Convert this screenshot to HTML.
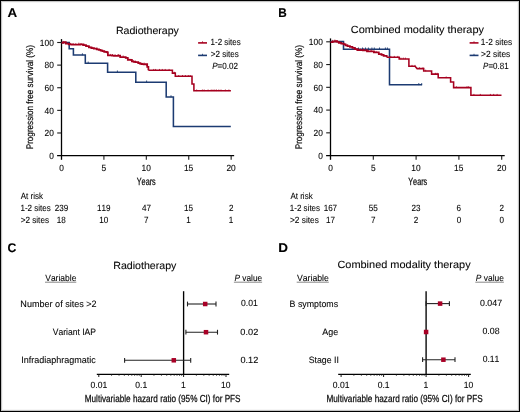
<!DOCTYPE html>
<html><head><meta charset="utf-8"><style>
html,body{margin:0;padding:0;background:#fff;}
svg{display:block;will-change:transform;font-family:"Liberation Sans", sans-serif;text-rendering:geometricPrecision;font-kerning:none;}
</style></head><body>
<svg width="520" height="412" viewBox="0 0 520 412">
<rect x="0.5" y="0.5" width="519" height="411" fill="#fff" stroke="#000" stroke-width="1"/>
<rect x="1.5" y="1.5" width="517" height="409" fill="none" stroke="#c4c4c4" stroke-width="1"/>
<rect x="2.5" y="2.5" width="515" height="407" fill="none" stroke="#f6f6f6" stroke-width="1"/>
<text x="7.47" y="16.90" font-size="12.6" textLength="9.69" lengthAdjust="spacingAndGlyphs" font-weight="bold" fill="#000" stroke="#000" stroke-width="0.1">A</text>
<text x="278.21" y="16.90" font-size="12.6" textLength="8.53" lengthAdjust="spacingAndGlyphs" font-weight="bold" fill="#000" stroke="#000" stroke-width="0.1">B</text>
<text x="7.50" y="251.80" font-size="12.6" textLength="8.84" lengthAdjust="spacingAndGlyphs" font-weight="bold" fill="#000" stroke="#000" stroke-width="0.1">C</text>
<text x="278.29" y="251.90" font-size="12.6" textLength="9.77" lengthAdjust="spacingAndGlyphs" font-weight="bold" fill="#000" stroke="#000" stroke-width="0.1">D</text>
<line x1="61.50" y1="39.10" x2="61.50" y2="159.80" stroke="#000" stroke-width="1.3"/>
<line x1="57.10" y1="155.60" x2="234.15" y2="155.60" stroke="#000" stroke-width="1.3"/>
<line x1="57.20" y1="42.50" x2="61.50" y2="42.50" stroke="#1b1b1b" stroke-width="1.1"/>
<line x1="57.20" y1="65.12" x2="61.50" y2="65.12" stroke="#1b1b1b" stroke-width="1.1"/>
<line x1="57.20" y1="87.74" x2="61.50" y2="87.74" stroke="#1b1b1b" stroke-width="1.1"/>
<line x1="57.20" y1="110.36" x2="61.50" y2="110.36" stroke="#1b1b1b" stroke-width="1.1"/>
<line x1="57.20" y1="132.98" x2="61.50" y2="132.98" stroke="#1b1b1b" stroke-width="1.1"/>
<text x="39.86" y="45.70" font-size="9" textLength="13.96" lengthAdjust="spacingAndGlyphs" stroke="#1b1b1b" stroke-width="0.1">100</text>
<text x="44.52" y="68.32" font-size="9" textLength="9.31" lengthAdjust="spacingAndGlyphs" stroke="#1b1b1b" stroke-width="0.1">80</text>
<text x="44.52" y="90.94" font-size="9" textLength="9.31" lengthAdjust="spacingAndGlyphs" stroke="#1b1b1b" stroke-width="0.1">60</text>
<text x="44.52" y="113.56" font-size="9" textLength="9.31" lengthAdjust="spacingAndGlyphs" stroke="#1b1b1b" stroke-width="0.1">40</text>
<text x="44.52" y="136.18" font-size="9" textLength="9.31" lengthAdjust="spacingAndGlyphs" stroke="#1b1b1b" stroke-width="0.1">20</text>
<text x="49.17" y="158.80" font-size="9" textLength="4.65" lengthAdjust="spacingAndGlyphs" stroke="#1b1b1b" stroke-width="0.1">0</text>
<line x1="103.91" y1="155.60" x2="103.91" y2="159.80" stroke="#1b1b1b" stroke-width="1.1"/>
<line x1="146.32" y1="155.60" x2="146.32" y2="159.80" stroke="#1b1b1b" stroke-width="1.1"/>
<line x1="188.74" y1="155.60" x2="188.74" y2="159.80" stroke="#1b1b1b" stroke-width="1.1"/>
<line x1="231.15" y1="155.60" x2="231.15" y2="159.80" stroke="#1b1b1b" stroke-width="1.1"/>
<text x="59.17" y="171.00" font-size="9" textLength="4.65" lengthAdjust="spacingAndGlyphs" stroke="#1b1b1b" stroke-width="0.1">0</text>
<text x="101.59" y="171.00" font-size="9" textLength="4.65" lengthAdjust="spacingAndGlyphs" stroke="#1b1b1b" stroke-width="0.1">5</text>
<text x="141.51" y="171.00" font-size="9" textLength="9.31" lengthAdjust="spacingAndGlyphs" stroke="#1b1b1b" stroke-width="0.1">10</text>
<text x="183.94" y="171.00" font-size="9" textLength="9.31" lengthAdjust="spacingAndGlyphs" stroke="#1b1b1b" stroke-width="0.1">15</text>
<text x="226.45" y="171.00" font-size="9" textLength="9.31" lengthAdjust="spacingAndGlyphs" stroke="#1b1b1b" stroke-width="0.1">20</text>
<text x="136.74" y="185.40" font-size="10.4" textLength="19.02" lengthAdjust="spacingAndGlyphs" stroke="#1b1b1b" stroke-width="0.25">Years</text>
<text x="-0.67" y="0" transform="translate(33.00,148.60) rotate(-90)" font-size="9.6" textLength="104.17" lengthAdjust="spacingAndGlyphs" stroke="#1b1b1b" stroke-width="0.22">Progression free survival (%)</text>
<text x="115.93" y="33.50" font-size="10.4" textLength="62.99" lengthAdjust="spacingAndGlyphs" stroke="#1b1b1b" stroke-width="0.1">Radiotherapy</text>
<line x1="198.10" y1="42.90" x2="207.00" y2="42.90" stroke="#a6001f" stroke-width="1.6"/>
<line x1="202.50" y1="41.30" x2="202.50" y2="42.90" stroke="#a6001f" stroke-width="0.8"/>
<text x="210.59" y="44.90" font-size="9" textLength="30.09" lengthAdjust="spacingAndGlyphs" stroke="#1b1b1b" stroke-width="0.1">1-2 sites</text>
<line x1="198.10" y1="55.40" x2="207.00" y2="55.40" stroke="#1c3b72" stroke-width="1.6"/>
<line x1="202.50" y1="53.80" x2="202.50" y2="55.40" stroke="#1c3b72" stroke-width="0.8"/>
<text x="210.80" y="57.00" font-size="9" textLength="27.99" lengthAdjust="spacingAndGlyphs" stroke="#1b1b1b" stroke-width="0.1">&gt;2 sites</text>
<text x="212.15" y="69.20" font-size="9" textLength="25.75" lengthAdjust="spacingAndGlyphs" stroke="#1b1b1b" stroke-width="0.1"><tspan font-style="italic">P</tspan>=0.02</text>
<text x="20.78" y="198.90" font-size="9" textLength="22.20" lengthAdjust="spacingAndGlyphs" stroke="#1b1b1b" stroke-width="0.1">At risk</text>
<text x="20.49" y="210.50" font-size="9" textLength="30.30" lengthAdjust="spacingAndGlyphs" stroke="#1b1b1b" stroke-width="0.1">1-2 sites</text>
<text x="20.70" y="222.60" font-size="9" textLength="28.30" lengthAdjust="spacingAndGlyphs" stroke="#1b1b1b" stroke-width="0.1">&gt;2 sites</text>
<text x="54.73" y="210.60" font-size="9" textLength="13.51" lengthAdjust="spacingAndGlyphs" stroke="#1b1b1b" stroke-width="0.1">239</text>
<text x="56.86" y="222.70" font-size="9" textLength="9.01" lengthAdjust="spacingAndGlyphs" stroke="#1b1b1b" stroke-width="0.1">18</text>
<text x="97.04" y="210.60" font-size="9" textLength="13.51" lengthAdjust="spacingAndGlyphs" stroke="#1b1b1b" stroke-width="0.1">119</text>
<text x="99.26" y="222.70" font-size="9" textLength="9.01" lengthAdjust="spacingAndGlyphs" stroke="#1b1b1b" stroke-width="0.1">10</text>
<text x="141.93" y="210.60" font-size="9" textLength="9.01" lengthAdjust="spacingAndGlyphs" stroke="#1b1b1b" stroke-width="0.1">47</text>
<text x="144.07" y="222.70" font-size="9" textLength="4.50" lengthAdjust="spacingAndGlyphs" stroke="#1b1b1b" stroke-width="0.1">7</text>
<text x="184.09" y="210.60" font-size="9" textLength="9.01" lengthAdjust="spacingAndGlyphs" stroke="#1b1b1b" stroke-width="0.1">15</text>
<text x="186.37" y="222.70" font-size="9" textLength="4.50" lengthAdjust="spacingAndGlyphs" stroke="#1b1b1b" stroke-width="0.1">1</text>
<text x="228.90" y="210.60" font-size="9" textLength="4.50" lengthAdjust="spacingAndGlyphs" stroke="#1b1b1b" stroke-width="0.1">2</text>
<text x="228.79" y="222.70" font-size="9" textLength="4.50" lengthAdjust="spacingAndGlyphs" stroke="#1b1b1b" stroke-width="0.1">1</text>
<line x1="330.50" y1="38.40" x2="330.50" y2="159.80" stroke="#000" stroke-width="1.3"/>
<line x1="326.10" y1="155.60" x2="504.70" y2="155.60" stroke="#000" stroke-width="1.3"/>
<line x1="326.20" y1="41.80" x2="330.50" y2="41.80" stroke="#1b1b1b" stroke-width="1.1"/>
<line x1="326.20" y1="64.56" x2="330.50" y2="64.56" stroke="#1b1b1b" stroke-width="1.1"/>
<line x1="326.20" y1="87.32" x2="330.50" y2="87.32" stroke="#1b1b1b" stroke-width="1.1"/>
<line x1="326.20" y1="110.08" x2="330.50" y2="110.08" stroke="#1b1b1b" stroke-width="1.1"/>
<line x1="326.20" y1="132.84" x2="330.50" y2="132.84" stroke="#1b1b1b" stroke-width="1.1"/>
<text x="308.86" y="45.00" font-size="9" textLength="13.96" lengthAdjust="spacingAndGlyphs" stroke="#1b1b1b" stroke-width="0.1">100</text>
<text x="313.52" y="67.76" font-size="9" textLength="9.31" lengthAdjust="spacingAndGlyphs" stroke="#1b1b1b" stroke-width="0.1">80</text>
<text x="313.52" y="90.52" font-size="9" textLength="9.31" lengthAdjust="spacingAndGlyphs" stroke="#1b1b1b" stroke-width="0.1">60</text>
<text x="313.52" y="113.28" font-size="9" textLength="9.31" lengthAdjust="spacingAndGlyphs" stroke="#1b1b1b" stroke-width="0.1">40</text>
<text x="313.52" y="136.04" font-size="9" textLength="9.31" lengthAdjust="spacingAndGlyphs" stroke="#1b1b1b" stroke-width="0.1">20</text>
<text x="318.17" y="158.80" font-size="9" textLength="4.65" lengthAdjust="spacingAndGlyphs" stroke="#1b1b1b" stroke-width="0.1">0</text>
<line x1="373.30" y1="155.60" x2="373.30" y2="159.80" stroke="#1b1b1b" stroke-width="1.1"/>
<line x1="416.10" y1="155.60" x2="416.10" y2="159.80" stroke="#1b1b1b" stroke-width="1.1"/>
<line x1="458.90" y1="155.60" x2="458.90" y2="159.80" stroke="#1b1b1b" stroke-width="1.1"/>
<line x1="501.70" y1="155.60" x2="501.70" y2="159.80" stroke="#1b1b1b" stroke-width="1.1"/>
<text x="328.17" y="171.00" font-size="9" textLength="4.65" lengthAdjust="spacingAndGlyphs" stroke="#1b1b1b" stroke-width="0.1">0</text>
<text x="370.98" y="171.00" font-size="9" textLength="4.65" lengthAdjust="spacingAndGlyphs" stroke="#1b1b1b" stroke-width="0.1">5</text>
<text x="411.29" y="171.00" font-size="9" textLength="9.31" lengthAdjust="spacingAndGlyphs" stroke="#1b1b1b" stroke-width="0.1">10</text>
<text x="454.10" y="171.00" font-size="9" textLength="9.31" lengthAdjust="spacingAndGlyphs" stroke="#1b1b1b" stroke-width="0.1">15</text>
<text x="497.00" y="171.00" font-size="9" textLength="9.31" lengthAdjust="spacingAndGlyphs" stroke="#1b1b1b" stroke-width="0.1">20</text>
<text x="408.24" y="185.40" font-size="10.4" textLength="19.02" lengthAdjust="spacingAndGlyphs" stroke="#1b1b1b" stroke-width="0.25">Years</text>
<text x="-0.67" y="0" transform="translate(302.00,148.60) rotate(-90)" font-size="9.6" textLength="104.17" lengthAdjust="spacingAndGlyphs" stroke="#1b1b1b" stroke-width="0.22">Progression free survival (%)</text>
<text x="350.84" y="32.90" font-size="10.4" textLength="133.18" lengthAdjust="spacingAndGlyphs" stroke="#1b1b1b" stroke-width="0.1">Combined modality therapy</text>
<line x1="469.60" y1="42.90" x2="478.50" y2="42.90" stroke="#a6001f" stroke-width="1.6"/>
<line x1="474.00" y1="41.30" x2="474.00" y2="42.90" stroke="#a6001f" stroke-width="0.8"/>
<text x="480.87" y="44.90" font-size="9" textLength="31.33" lengthAdjust="spacingAndGlyphs" stroke="#1b1b1b" stroke-width="0.1">1-2 sites</text>
<line x1="469.60" y1="55.40" x2="478.50" y2="55.40" stroke="#1c3b72" stroke-width="1.6"/>
<line x1="474.00" y1="53.80" x2="474.00" y2="55.40" stroke="#1c3b72" stroke-width="0.8"/>
<text x="481.09" y="57.00" font-size="9" textLength="29.22" lengthAdjust="spacingAndGlyphs" stroke="#1b1b1b" stroke-width="0.1">&gt;2 sites</text>
<text x="483.05" y="69.20" font-size="9" textLength="25.54" lengthAdjust="spacingAndGlyphs" stroke="#1b1b1b" stroke-width="0.1"><tspan font-style="italic">P</tspan>=0.81</text>
<text x="290.38" y="198.90" font-size="9" textLength="22.30" lengthAdjust="spacingAndGlyphs" stroke="#1b1b1b" stroke-width="0.1">At risk</text>
<text x="289.79" y="210.50" font-size="9" textLength="30.30" lengthAdjust="spacingAndGlyphs" stroke="#1b1b1b" stroke-width="0.1">1-2 sites</text>
<text x="289.99" y="222.60" font-size="9" textLength="28.81" lengthAdjust="spacingAndGlyphs" stroke="#1b1b1b" stroke-width="0.1">&gt;2 sites</text>
<text x="323.64" y="210.60" font-size="9" textLength="13.51" lengthAdjust="spacingAndGlyphs" stroke="#1b1b1b" stroke-width="0.1">167</text>
<text x="325.89" y="222.70" font-size="9" textLength="9.01" lengthAdjust="spacingAndGlyphs" stroke="#1b1b1b" stroke-width="0.1">17</text>
<text x="368.80" y="210.60" font-size="9" textLength="9.01" lengthAdjust="spacingAndGlyphs" stroke="#1b1b1b" stroke-width="0.1">55</text>
<text x="371.04" y="222.70" font-size="9" textLength="4.50" lengthAdjust="spacingAndGlyphs" stroke="#1b1b1b" stroke-width="0.1">7</text>
<text x="411.57" y="210.60" font-size="9" textLength="9.01" lengthAdjust="spacingAndGlyphs" stroke="#1b1b1b" stroke-width="0.1">23</text>
<text x="413.85" y="222.70" font-size="9" textLength="4.50" lengthAdjust="spacingAndGlyphs" stroke="#1b1b1b" stroke-width="0.1">2</text>
<text x="456.62" y="210.60" font-size="9" textLength="4.50" lengthAdjust="spacingAndGlyphs" stroke="#1b1b1b" stroke-width="0.1">6</text>
<text x="456.65" y="222.70" font-size="9" textLength="4.50" lengthAdjust="spacingAndGlyphs" stroke="#1b1b1b" stroke-width="0.1">0</text>
<text x="499.45" y="210.60" font-size="9" textLength="4.50" lengthAdjust="spacingAndGlyphs" stroke="#1b1b1b" stroke-width="0.1">2</text>
<text x="499.45" y="222.70" font-size="9" textLength="4.50" lengthAdjust="spacingAndGlyphs" stroke="#1b1b1b" stroke-width="0.1">0</text>
<path d="M61.50,42.40L69.20,42.40L69.20,48.80L73.40,48.80L73.40,55.00L85.30,55.00L85.30,63.30L107.60,63.30L107.60,72.20L135.80,72.20L135.80,82.20L166.20,82.20L166.20,97.00L173.40,97.00L173.40,126.40L230.80,126.40" fill="none" stroke="#1c3b72" stroke-width="1.55"/>
<line x1="82.40" y1="55.30" x2="82.40" y2="53.30" stroke="#1c3b72" stroke-width="0.9"/>
<line x1="88.20" y1="63.60" x2="88.20" y2="61.60" stroke="#1c3b72" stroke-width="0.9"/>
<line x1="117.40" y1="72.50" x2="117.40" y2="70.50" stroke="#1c3b72" stroke-width="0.9"/>
<line x1="146.60" y1="82.50" x2="146.60" y2="80.50" stroke="#1c3b72" stroke-width="0.9"/>
<line x1="171.00" y1="97.30" x2="171.00" y2="95.30" stroke="#1c3b72" stroke-width="0.9"/>
<path d="M61.50,42.75L63.50,42.75L63.50,42.15L65.80,42.15L65.80,43.65L68.70,43.65L68.70,44.25L71.50,44.25L71.50,44.55L74.40,44.55L74.40,44.65L77.30,44.65L80.20,44.65L80.20,44.25L83.10,44.25L83.10,45.05L86.00,45.05L86.00,46.15L88.90,46.15L88.90,47.45L91.35,47.45L91.35,48.05L93.80,48.05L93.80,48.65L96.70,48.65L96.70,49.25L98.70,49.25L98.70,49.95L100.70,49.95L100.70,50.65L102.45,50.65L102.45,51.20L104.20,51.20L104.20,51.75L106.50,51.75L106.50,52.15L107.30,52.15L107.30,52.45L107.90,52.45L107.90,55.25L109.93,55.25L109.93,55.42L111.97,55.42L111.97,55.58L114.00,55.58L114.00,55.75L116.00,55.75L116.00,55.85L118.10,55.85L118.10,55.55L120.20,55.55L120.20,57.15L122.90,57.15L125.70,57.15L125.70,57.95L127.80,57.95L127.80,59.95L129.90,59.95L129.90,59.75L131.90,59.75L131.90,61.45L133.65,61.45L133.65,61.80L135.40,61.80L135.40,62.15L138.20,62.15L138.20,63.15L140.20,63.15L140.20,63.85L141.95,63.85L141.95,64.05L143.70,64.05L143.70,64.25L145.80,64.25L145.80,64.05L147.20,64.05L147.20,66.95L148.40,66.95L148.40,70.25" fill="none" stroke="#a6001f" stroke-width="1.75"/>
<line x1="63.09" y1="42.47" x2="63.09" y2="40.90" stroke="#a6001f" stroke-width="0.8"/>
<line x1="66.08" y1="43.91" x2="66.08" y2="42.37" stroke="#a6001f" stroke-width="0.8"/>
<line x1="68.54" y1="44.42" x2="68.54" y2="42.73" stroke="#a6001f" stroke-width="0.8"/>
<line x1="70.57" y1="44.65" x2="70.57" y2="42.90" stroke="#a6001f" stroke-width="0.8"/>
<line x1="73.14" y1="44.81" x2="73.14" y2="43.09" stroke="#a6001f" stroke-width="0.8"/>
<line x1="75.78" y1="44.85" x2="75.78" y2="43.30" stroke="#a6001f" stroke-width="0.8"/>
<line x1="78.81" y1="44.64" x2="78.81" y2="42.73" stroke="#a6001f" stroke-width="0.8"/>
<line x1="81.05" y1="44.68" x2="81.05" y2="43.07" stroke="#a6001f" stroke-width="0.8"/>
<line x1="84.25" y1="45.69" x2="84.25" y2="43.71" stroke="#a6001f" stroke-width="0.8"/>
<line x1="86.79" y1="46.71" x2="86.79" y2="45.01" stroke="#a6001f" stroke-width="0.8"/>
<line x1="89.87" y1="47.89" x2="89.87" y2="46.36" stroke="#a6001f" stroke-width="0.8"/>
<line x1="92.33" y1="48.49" x2="92.33" y2="46.85" stroke="#a6001f" stroke-width="0.8"/>
<line x1="94.07" y1="48.91" x2="94.07" y2="47.35" stroke="#a6001f" stroke-width="0.8"/>
<line x1="96.87" y1="49.51" x2="96.87" y2="47.60" stroke="#a6001f" stroke-width="0.8"/>
<line x1="99.32" y1="50.37" x2="99.32" y2="48.58" stroke="#a6001f" stroke-width="0.8"/>
<line x1="102.47" y1="51.41" x2="102.47" y2="49.72" stroke="#a6001f" stroke-width="0.8"/>
<line x1="104.96" y1="52.08" x2="104.96" y2="50.55" stroke="#a6001f" stroke-width="0.8"/>
<line x1="106.97" y1="52.53" x2="106.97" y2="50.92" stroke="#a6001f" stroke-width="0.8"/>
<line x1="110.32" y1="55.65" x2="110.32" y2="53.93" stroke="#a6001f" stroke-width="0.8"/>
<line x1="112.48" y1="55.83" x2="112.48" y2="54.03" stroke="#a6001f" stroke-width="0.8"/>
<line x1="115.24" y1="56.01" x2="115.24" y2="54.36" stroke="#a6001f" stroke-width="0.8"/>
<line x1="118.25" y1="55.87" x2="118.25" y2="54.02" stroke="#a6001f" stroke-width="0.8"/>
<line x1="120.19" y1="57.34" x2="120.19" y2="55.56" stroke="#a6001f" stroke-width="0.8"/>
<line x1="123.13" y1="57.42" x2="123.13" y2="55.48" stroke="#a6001f" stroke-width="0.8"/>
<line x1="125.98" y1="58.41" x2="125.98" y2="56.77" stroke="#a6001f" stroke-width="0.8"/>
<line x1="128.88" y1="60.05" x2="128.88" y2="58.49" stroke="#a6001f" stroke-width="0.8"/>
<line x1="130.80" y1="60.72" x2="130.80" y2="58.84" stroke="#a6001f" stroke-width="0.8"/>
<line x1="133.08" y1="61.89" x2="133.08" y2="60.14" stroke="#a6001f" stroke-width="0.8"/>
<line x1="135.55" y1="62.40" x2="135.55" y2="60.57" stroke="#a6001f" stroke-width="0.8"/>
<line x1="139.02" y1="63.64" x2="139.02" y2="61.85" stroke="#a6001f" stroke-width="0.8"/>
<line x1="141.75" y1="64.23" x2="141.75" y2="62.57" stroke="#a6001f" stroke-width="0.8"/>
<line x1="144.13" y1="64.41" x2="144.13" y2="62.61" stroke="#a6001f" stroke-width="0.8"/>
<line x1="146.60" y1="65.90" x2="146.60" y2="64.17" stroke="#a6001f" stroke-width="0.8"/>
<path d="M148.40,70.25L172.40,70.25L172.40,73.10L175.30,73.10L175.30,76.30L192.00,76.30L192.00,84.00L193.90,84.00L193.90,90.80L230.90,90.80" fill="none" stroke="#a6001f" stroke-width="1.55"/>
<line x1="153.70" y1="70.55" x2="153.70" y2="68.95" stroke="#a6001f" stroke-width="0.8"/>
<line x1="155.60" y1="70.55" x2="155.60" y2="68.95" stroke="#a6001f" stroke-width="0.8"/>
<line x1="159.50" y1="70.55" x2="159.50" y2="68.95" stroke="#a6001f" stroke-width="0.8"/>
<line x1="162.30" y1="70.55" x2="162.30" y2="68.95" stroke="#a6001f" stroke-width="0.8"/>
<line x1="165.20" y1="70.55" x2="165.20" y2="68.95" stroke="#a6001f" stroke-width="0.8"/>
<line x1="169.10" y1="70.55" x2="169.10" y2="68.95" stroke="#a6001f" stroke-width="0.8"/>
<line x1="174.40" y1="73.40" x2="174.40" y2="71.80" stroke="#a6001f" stroke-width="0.8"/>
<line x1="178.70" y1="76.60" x2="178.70" y2="75.00" stroke="#a6001f" stroke-width="0.8"/>
<line x1="182.50" y1="76.60" x2="182.50" y2="75.00" stroke="#a6001f" stroke-width="0.8"/>
<line x1="185.40" y1="76.60" x2="185.40" y2="75.00" stroke="#a6001f" stroke-width="0.8"/>
<line x1="188.30" y1="76.60" x2="188.30" y2="75.00" stroke="#a6001f" stroke-width="0.8"/>
<line x1="190.20" y1="76.60" x2="190.20" y2="75.00" stroke="#a6001f" stroke-width="0.8"/>
<line x1="196.60" y1="91.10" x2="196.60" y2="89.50" stroke="#a6001f" stroke-width="0.8"/>
<line x1="202.40" y1="91.10" x2="202.40" y2="89.50" stroke="#a6001f" stroke-width="0.8"/>
<line x1="204.20" y1="91.10" x2="204.20" y2="89.50" stroke="#a6001f" stroke-width="0.8"/>
<line x1="208.10" y1="91.10" x2="208.10" y2="89.50" stroke="#a6001f" stroke-width="0.8"/>
<line x1="211.20" y1="91.10" x2="211.20" y2="89.50" stroke="#a6001f" stroke-width="0.8"/>
<line x1="213.00" y1="91.10" x2="213.00" y2="89.50" stroke="#a6001f" stroke-width="0.8"/>
<line x1="214.80" y1="91.10" x2="214.80" y2="89.50" stroke="#a6001f" stroke-width="0.8"/>
<line x1="216.50" y1="91.10" x2="216.50" y2="89.50" stroke="#a6001f" stroke-width="0.8"/>
<line x1="218.80" y1="91.10" x2="218.80" y2="89.50" stroke="#a6001f" stroke-width="0.8"/>
<line x1="221.00" y1="91.10" x2="221.00" y2="89.50" stroke="#a6001f" stroke-width="0.8"/>
<line x1="225.40" y1="91.10" x2="225.40" y2="89.50" stroke="#a6001f" stroke-width="0.8"/>
<line x1="228.90" y1="91.10" x2="228.90" y2="89.50" stroke="#a6001f" stroke-width="0.8"/>
<path d="M330.50,41.50L343.50,41.50L343.50,49.20L389.50,49.20L389.50,84.80L422.10,84.80" fill="none" stroke="#1c3b72" stroke-width="1.55"/>
<line x1="355.50" y1="49.50" x2="355.50" y2="47.50" stroke="#1c3b72" stroke-width="0.9"/>
<line x1="358.50" y1="49.50" x2="358.50" y2="47.50" stroke="#1c3b72" stroke-width="0.9"/>
<line x1="362.50" y1="49.50" x2="362.50" y2="47.50" stroke="#1c3b72" stroke-width="0.9"/>
<line x1="365.50" y1="49.50" x2="365.50" y2="47.50" stroke="#1c3b72" stroke-width="0.9"/>
<line x1="368.40" y1="49.50" x2="368.40" y2="47.50" stroke="#1c3b72" stroke-width="0.9"/>
<line x1="371.90" y1="49.50" x2="371.90" y2="47.50" stroke="#1c3b72" stroke-width="0.9"/>
<line x1="374.30" y1="49.50" x2="374.30" y2="47.50" stroke="#1c3b72" stroke-width="0.9"/>
<line x1="379.50" y1="49.50" x2="379.50" y2="47.50" stroke="#1c3b72" stroke-width="0.9"/>
<line x1="385.40" y1="49.50" x2="385.40" y2="47.50" stroke="#1c3b72" stroke-width="0.9"/>
<line x1="387.40" y1="49.50" x2="387.40" y2="47.50" stroke="#1c3b72" stroke-width="0.9"/>
<line x1="418.80" y1="85.10" x2="418.80" y2="83.10" stroke="#1c3b72" stroke-width="0.9"/>
<line x1="421.70" y1="85.10" x2="421.70" y2="83.10" stroke="#1c3b72" stroke-width="0.9"/>
<path d="M330.50,42.05L332.70,42.05L332.70,41.65L335.20,41.65L335.20,41.15L337.00,41.15L337.00,41.85L338.80,41.85L338.80,42.95L341.30,42.95L341.30,43.65L343.80,43.65L343.80,44.25L345.60,44.25L345.60,45.45L347.50,45.45L347.50,46.05L349.90,46.05L349.90,46.95L352.40,46.95L352.40,47.95L354.80,47.95L354.80,49.15L357.30,49.15L357.30,50.05L359.15,50.05L359.15,50.10L361.00,50.10L361.00,50.15L362.95,50.15L362.95,50.25L364.90,50.25L364.90,50.35L367.00,50.35L367.00,51.35L369.45,51.35L369.45,51.30L371.90,51.30L371.90,51.25L373.90,51.25L373.90,52.45L375.65,52.45L375.65,52.35L377.40,52.35L377.40,52.25L378.80,52.25L378.80,54.15L381.50,54.15L381.50,54.85L383.60,54.85L383.60,55.75L385.90,55.75L385.90,55.85L386.70,55.85L386.70,57.20" fill="none" stroke="#a6001f" stroke-width="1.75"/>
<line x1="332.71" y1="41.85" x2="332.71" y2="39.88" stroke="#a6001f" stroke-width="0.8"/>
<line x1="334.87" y1="41.42" x2="334.87" y2="39.58" stroke="#a6001f" stroke-width="0.8"/>
<line x1="336.97" y1="42.04" x2="336.97" y2="40.19" stroke="#a6001f" stroke-width="0.8"/>
<line x1="340.28" y1="43.56" x2="340.28" y2="41.57" stroke="#a6001f" stroke-width="0.8"/>
<line x1="343.09" y1="44.28" x2="343.09" y2="42.64" stroke="#a6001f" stroke-width="0.8"/>
<line x1="345.16" y1="45.36" x2="345.16" y2="43.52" stroke="#a6001f" stroke-width="0.8"/>
<line x1="347.33" y1="46.20" x2="347.33" y2="44.46" stroke="#a6001f" stroke-width="0.8"/>
<line x1="350.10" y1="47.23" x2="350.10" y2="45.67" stroke="#a6001f" stroke-width="0.8"/>
<line x1="352.57" y1="48.24" x2="352.57" y2="46.35" stroke="#a6001f" stroke-width="0.8"/>
<line x1="355.26" y1="49.51" x2="355.26" y2="47.89" stroke="#a6001f" stroke-width="0.8"/>
<line x1="358.17" y1="50.27" x2="358.17" y2="48.34" stroke="#a6001f" stroke-width="0.8"/>
<line x1="360.40" y1="50.33" x2="360.40" y2="48.61" stroke="#a6001f" stroke-width="0.8"/>
<line x1="363.56" y1="50.48" x2="363.56" y2="48.54" stroke="#a6001f" stroke-width="0.8"/>
<line x1="366.48" y1="51.30" x2="366.48" y2="49.37" stroke="#a6001f" stroke-width="0.8"/>
<line x1="368.43" y1="51.52" x2="368.43" y2="49.81" stroke="#a6001f" stroke-width="0.8"/>
<line x1="371.13" y1="51.47" x2="371.13" y2="49.52" stroke="#a6001f" stroke-width="0.8"/>
<line x1="374.45" y1="52.62" x2="374.45" y2="51.04" stroke="#a6001f" stroke-width="0.8"/>
<line x1="376.11" y1="52.52" x2="376.11" y2="50.91" stroke="#a6001f" stroke-width="0.8"/>
<line x1="378.78" y1="54.32" x2="378.78" y2="52.58" stroke="#a6001f" stroke-width="0.8"/>
<line x1="381.81" y1="55.18" x2="381.81" y2="53.55" stroke="#a6001f" stroke-width="0.8"/>
<line x1="383.70" y1="55.95" x2="383.70" y2="54.25" stroke="#a6001f" stroke-width="0.8"/>
<path d="M386.70,57.20L399.20,57.20L399.20,58.90L408.90,58.90L408.90,66.20L415.00,66.20L417.10,68.60L423.70,68.60L423.70,71.00L431.60,71.00L431.60,74.10L438.20,74.10L438.20,77.80L450.60,77.80L450.60,82.00L453.60,82.00L453.60,87.60L470.90,87.60L470.90,95.20L501.50,95.20" fill="none" stroke="#a6001f" stroke-width="1.55"/>
<line x1="390.80" y1="57.50" x2="390.80" y2="55.90" stroke="#a6001f" stroke-width="0.8"/>
<line x1="394.30" y1="57.50" x2="394.30" y2="55.90" stroke="#a6001f" stroke-width="0.8"/>
<line x1="397.80" y1="57.50" x2="397.80" y2="55.90" stroke="#a6001f" stroke-width="0.8"/>
<line x1="400.90" y1="59.20" x2="400.90" y2="57.60" stroke="#a6001f" stroke-width="0.8"/>
<line x1="403.30" y1="59.20" x2="403.30" y2="57.60" stroke="#a6001f" stroke-width="0.8"/>
<line x1="405.40" y1="59.20" x2="405.40" y2="57.60" stroke="#a6001f" stroke-width="0.8"/>
<line x1="412.00" y1="66.50" x2="412.00" y2="64.90" stroke="#a6001f" stroke-width="0.8"/>
<line x1="415.00" y1="66.50" x2="415.00" y2="64.90" stroke="#a6001f" stroke-width="0.8"/>
<line x1="419.50" y1="68.90" x2="419.50" y2="67.30" stroke="#a6001f" stroke-width="0.8"/>
<line x1="423.00" y1="68.90" x2="423.00" y2="67.30" stroke="#a6001f" stroke-width="0.8"/>
<line x1="425.70" y1="71.30" x2="425.70" y2="69.70" stroke="#a6001f" stroke-width="0.8"/>
<line x1="435.40" y1="74.40" x2="435.40" y2="72.80" stroke="#a6001f" stroke-width="0.8"/>
<line x1="437.20" y1="74.40" x2="437.20" y2="72.80" stroke="#a6001f" stroke-width="0.8"/>
<line x1="446.20" y1="78.10" x2="446.20" y2="76.50" stroke="#a6001f" stroke-width="0.8"/>
<line x1="456.40" y1="87.90" x2="456.40" y2="86.30" stroke="#a6001f" stroke-width="0.8"/>
<line x1="467.00" y1="87.90" x2="467.00" y2="86.30" stroke="#a6001f" stroke-width="0.8"/>
<line x1="468.60" y1="87.90" x2="468.60" y2="86.30" stroke="#a6001f" stroke-width="0.8"/>
<line x1="473.90" y1="95.50" x2="473.90" y2="93.90" stroke="#a6001f" stroke-width="0.8"/>
<line x1="480.30" y1="95.50" x2="480.30" y2="93.90" stroke="#a6001f" stroke-width="0.8"/>
<line x1="490.40" y1="95.50" x2="490.40" y2="93.90" stroke="#a6001f" stroke-width="0.8"/>
<line x1="493.70" y1="95.50" x2="493.70" y2="93.90" stroke="#a6001f" stroke-width="0.8"/>
<line x1="497.10" y1="95.50" x2="497.10" y2="93.90" stroke="#a6001f" stroke-width="0.8"/>
<line x1="96.80" y1="374.40" x2="229.20" y2="374.40" stroke="#000" stroke-width="1.3"/>
<line x1="98.80" y1="374.40" x2="98.80" y2="377.00" stroke="#1b1b1b" stroke-width="1.0"/>
<line x1="111.56" y1="374.40" x2="111.56" y2="375.90" stroke="#1b1b1b" stroke-width="0.7"/>
<line x1="119.03" y1="374.40" x2="119.03" y2="375.90" stroke="#1b1b1b" stroke-width="0.7"/>
<line x1="124.33" y1="374.40" x2="124.33" y2="375.90" stroke="#1b1b1b" stroke-width="0.7"/>
<line x1="128.44" y1="374.40" x2="128.44" y2="375.90" stroke="#1b1b1b" stroke-width="0.7"/>
<line x1="131.79" y1="374.40" x2="131.79" y2="375.90" stroke="#1b1b1b" stroke-width="0.7"/>
<line x1="134.63" y1="374.40" x2="134.63" y2="375.90" stroke="#1b1b1b" stroke-width="0.7"/>
<line x1="137.09" y1="374.40" x2="137.09" y2="375.90" stroke="#1b1b1b" stroke-width="0.7"/>
<line x1="139.26" y1="374.40" x2="139.26" y2="375.90" stroke="#1b1b1b" stroke-width="0.7"/>
<line x1="141.20" y1="374.40" x2="141.20" y2="377.00" stroke="#1b1b1b" stroke-width="1.0"/>
<line x1="153.96" y1="374.40" x2="153.96" y2="375.90" stroke="#1b1b1b" stroke-width="0.7"/>
<line x1="161.43" y1="374.40" x2="161.43" y2="375.90" stroke="#1b1b1b" stroke-width="0.7"/>
<line x1="166.73" y1="374.40" x2="166.73" y2="375.90" stroke="#1b1b1b" stroke-width="0.7"/>
<line x1="170.84" y1="374.40" x2="170.84" y2="375.90" stroke="#1b1b1b" stroke-width="0.7"/>
<line x1="174.19" y1="374.40" x2="174.19" y2="375.90" stroke="#1b1b1b" stroke-width="0.7"/>
<line x1="177.03" y1="374.40" x2="177.03" y2="375.90" stroke="#1b1b1b" stroke-width="0.7"/>
<line x1="179.49" y1="374.40" x2="179.49" y2="375.90" stroke="#1b1b1b" stroke-width="0.7"/>
<line x1="181.66" y1="374.40" x2="181.66" y2="375.90" stroke="#1b1b1b" stroke-width="0.7"/>
<line x1="183.60" y1="374.40" x2="183.60" y2="377.00" stroke="#1b1b1b" stroke-width="1.0"/>
<line x1="196.36" y1="374.40" x2="196.36" y2="375.90" stroke="#1b1b1b" stroke-width="0.7"/>
<line x1="203.83" y1="374.40" x2="203.83" y2="375.90" stroke="#1b1b1b" stroke-width="0.7"/>
<line x1="209.13" y1="374.40" x2="209.13" y2="375.90" stroke="#1b1b1b" stroke-width="0.7"/>
<line x1="213.24" y1="374.40" x2="213.24" y2="375.90" stroke="#1b1b1b" stroke-width="0.7"/>
<line x1="216.59" y1="374.40" x2="216.59" y2="375.90" stroke="#1b1b1b" stroke-width="0.7"/>
<line x1="219.43" y1="374.40" x2="219.43" y2="375.90" stroke="#1b1b1b" stroke-width="0.7"/>
<line x1="221.89" y1="374.40" x2="221.89" y2="375.90" stroke="#1b1b1b" stroke-width="0.7"/>
<line x1="224.06" y1="374.40" x2="224.06" y2="375.90" stroke="#1b1b1b" stroke-width="0.7"/>
<line x1="226.00" y1="374.40" x2="226.00" y2="377.00" stroke="#1b1b1b" stroke-width="1.0"/>
<text x="90.52" y="387.60" font-size="9" textLength="16.64" lengthAdjust="spacingAndGlyphs" stroke="#1b1b1b" stroke-width="0.1">0.01</text>
<text x="135.30" y="387.60" font-size="9" textLength="11.89" lengthAdjust="spacingAndGlyphs" stroke="#1b1b1b" stroke-width="0.1">0.1</text>
<text x="181.11" y="387.60" font-size="9" textLength="4.76" lengthAdjust="spacingAndGlyphs" stroke="#1b1b1b" stroke-width="0.1">1</text>
<text x="221.09" y="387.60" font-size="9" textLength="9.51" lengthAdjust="spacingAndGlyphs" stroke="#1b1b1b" stroke-width="0.1">10</text>
<line x1="183.60" y1="291.20" x2="183.60" y2="374.40" stroke="#000" stroke-width="1.35"/>
<text x="113.23" y="268.80" font-size="10.4" textLength="63.19" lengthAdjust="spacingAndGlyphs" stroke="#1b1b1b" stroke-width="0.1">Radiotherapy</text>
<text x="45.26" y="280.60" font-size="9" textLength="31.11" lengthAdjust="spacingAndGlyphs" stroke="#1b1b1b" stroke-width="0.1">Variable</text>
<line x1="45.00" y1="282.20" x2="76.30" y2="282.20" stroke="#555" stroke-width="0.7"/>
<text x="234.44" y="280.60" font-size="9" textLength="27.73" lengthAdjust="spacingAndGlyphs" stroke="#1b1b1b" stroke-width="0.1"><tspan font-style="italic">P</tspan> value</text>
<line x1="233.90" y1="282.20" x2="262.10" y2="282.20" stroke="#555" stroke-width="0.7"/>
<text x="20.36" y="307.20" font-size="9.2" textLength="76.30" lengthAdjust="spacingAndGlyphs" stroke="#1b1b1b" stroke-width="0.1">Number of sites &gt;2</text>
<text x="240.96" y="306.40" font-size="9" textLength="16.76" lengthAdjust="spacingAndGlyphs" stroke="#1b1b1b" stroke-width="0.1">0.01</text>
<line x1="187.50" y1="304.00" x2="216.00" y2="304.00" stroke="#222" stroke-width="1.1"/>
<line x1="187.50" y1="301.60" x2="187.50" y2="306.40" stroke="#222" stroke-width="1.1"/>
<line x1="216.00" y1="301.60" x2="216.00" y2="306.40" stroke="#222" stroke-width="1.1"/>
<rect x="202.95" y="301.75" width="4.5" height="4.5" fill="#a80026"/>
<text x="52.76" y="335.40" font-size="9.2" textLength="43.29" lengthAdjust="spacingAndGlyphs" stroke="#1b1b1b" stroke-width="0.1">Variant IAP</text>
<text x="240.39" y="334.60" font-size="9" textLength="17.92" lengthAdjust="spacingAndGlyphs" stroke="#1b1b1b" stroke-width="0.1">0.02</text>
<line x1="185.90" y1="332.20" x2="217.50" y2="332.20" stroke="#222" stroke-width="1.1"/>
<line x1="185.90" y1="329.80" x2="185.90" y2="334.60" stroke="#222" stroke-width="1.1"/>
<line x1="217.50" y1="329.80" x2="217.50" y2="334.60" stroke="#222" stroke-width="1.1"/>
<rect x="203.75" y="329.95" width="4.5" height="4.5" fill="#a80026"/>
<text x="21.17" y="362.80" font-size="9.2" textLength="74.67" lengthAdjust="spacingAndGlyphs" stroke="#1b1b1b" stroke-width="0.1">Infradiaphragmatic</text>
<text x="240.44" y="362.70" font-size="9" textLength="17.82" lengthAdjust="spacingAndGlyphs" stroke="#1b1b1b" stroke-width="0.1">0.12</text>
<line x1="124.60" y1="360.30" x2="190.70" y2="360.30" stroke="#222" stroke-width="1.1"/>
<line x1="124.60" y1="357.90" x2="124.60" y2="362.70" stroke="#222" stroke-width="1.1"/>
<line x1="190.70" y1="357.90" x2="190.70" y2="362.70" stroke="#222" stroke-width="1.1"/>
<rect x="171.55" y="358.05" width="4.5" height="4.5" fill="#a80026"/>
<line x1="338.20" y1="374.40" x2="470.80" y2="374.40" stroke="#000" stroke-width="1.3"/>
<line x1="341.10" y1="374.40" x2="341.10" y2="377.00" stroke="#1b1b1b" stroke-width="1.0"/>
<line x1="353.89" y1="374.40" x2="353.89" y2="375.90" stroke="#1b1b1b" stroke-width="0.7"/>
<line x1="361.38" y1="374.40" x2="361.38" y2="375.90" stroke="#1b1b1b" stroke-width="0.7"/>
<line x1="366.69" y1="374.40" x2="366.69" y2="375.90" stroke="#1b1b1b" stroke-width="0.7"/>
<line x1="370.81" y1="374.40" x2="370.81" y2="375.90" stroke="#1b1b1b" stroke-width="0.7"/>
<line x1="374.17" y1="374.40" x2="374.17" y2="375.90" stroke="#1b1b1b" stroke-width="0.7"/>
<line x1="377.02" y1="374.40" x2="377.02" y2="375.90" stroke="#1b1b1b" stroke-width="0.7"/>
<line x1="379.48" y1="374.40" x2="379.48" y2="375.90" stroke="#1b1b1b" stroke-width="0.7"/>
<line x1="381.66" y1="374.40" x2="381.66" y2="375.90" stroke="#1b1b1b" stroke-width="0.7"/>
<line x1="383.60" y1="374.40" x2="383.60" y2="377.00" stroke="#1b1b1b" stroke-width="1.0"/>
<line x1="396.39" y1="374.40" x2="396.39" y2="375.90" stroke="#1b1b1b" stroke-width="0.7"/>
<line x1="403.88" y1="374.40" x2="403.88" y2="375.90" stroke="#1b1b1b" stroke-width="0.7"/>
<line x1="409.19" y1="374.40" x2="409.19" y2="375.90" stroke="#1b1b1b" stroke-width="0.7"/>
<line x1="413.31" y1="374.40" x2="413.31" y2="375.90" stroke="#1b1b1b" stroke-width="0.7"/>
<line x1="416.67" y1="374.40" x2="416.67" y2="375.90" stroke="#1b1b1b" stroke-width="0.7"/>
<line x1="419.52" y1="374.40" x2="419.52" y2="375.90" stroke="#1b1b1b" stroke-width="0.7"/>
<line x1="421.98" y1="374.40" x2="421.98" y2="375.90" stroke="#1b1b1b" stroke-width="0.7"/>
<line x1="424.16" y1="374.40" x2="424.16" y2="375.90" stroke="#1b1b1b" stroke-width="0.7"/>
<line x1="426.10" y1="374.40" x2="426.10" y2="377.00" stroke="#1b1b1b" stroke-width="1.0"/>
<line x1="438.89" y1="374.40" x2="438.89" y2="375.90" stroke="#1b1b1b" stroke-width="0.7"/>
<line x1="446.38" y1="374.40" x2="446.38" y2="375.90" stroke="#1b1b1b" stroke-width="0.7"/>
<line x1="451.69" y1="374.40" x2="451.69" y2="375.90" stroke="#1b1b1b" stroke-width="0.7"/>
<line x1="455.81" y1="374.40" x2="455.81" y2="375.90" stroke="#1b1b1b" stroke-width="0.7"/>
<line x1="459.17" y1="374.40" x2="459.17" y2="375.90" stroke="#1b1b1b" stroke-width="0.7"/>
<line x1="462.02" y1="374.40" x2="462.02" y2="375.90" stroke="#1b1b1b" stroke-width="0.7"/>
<line x1="464.48" y1="374.40" x2="464.48" y2="375.90" stroke="#1b1b1b" stroke-width="0.7"/>
<line x1="466.66" y1="374.40" x2="466.66" y2="375.90" stroke="#1b1b1b" stroke-width="0.7"/>
<line x1="468.60" y1="374.40" x2="468.60" y2="377.00" stroke="#1b1b1b" stroke-width="1.0"/>
<text x="332.82" y="387.60" font-size="9" textLength="16.64" lengthAdjust="spacingAndGlyphs" stroke="#1b1b1b" stroke-width="0.1">0.01</text>
<text x="377.70" y="387.60" font-size="9" textLength="11.89" lengthAdjust="spacingAndGlyphs" stroke="#1b1b1b" stroke-width="0.1">0.1</text>
<text x="423.61" y="387.60" font-size="9" textLength="4.76" lengthAdjust="spacingAndGlyphs" stroke="#1b1b1b" stroke-width="0.1">1</text>
<text x="463.69" y="387.60" font-size="9" textLength="9.51" lengthAdjust="spacingAndGlyphs" stroke="#1b1b1b" stroke-width="0.1">10</text>
<line x1="426.10" y1="291.20" x2="426.10" y2="374.40" stroke="#000" stroke-width="1.35"/>
<text x="337.44" y="267.80" font-size="10.4" textLength="133.18" lengthAdjust="spacingAndGlyphs" stroke="#1b1b1b" stroke-width="0.1">Combined modality therapy</text>
<text x="296.96" y="280.60" font-size="9" textLength="31.92" lengthAdjust="spacingAndGlyphs" stroke="#1b1b1b" stroke-width="0.1">Variable</text>
<line x1="296.70" y1="282.20" x2="328.80" y2="282.20" stroke="#555" stroke-width="0.7"/>
<text x="475.84" y="280.60" font-size="9" textLength="28.13" lengthAdjust="spacingAndGlyphs" stroke="#1b1b1b" stroke-width="0.1"><tspan font-style="italic">P</tspan> value</text>
<line x1="475.30" y1="282.20" x2="503.90" y2="282.20" stroke="#555" stroke-width="0.7"/>
<text x="289.58" y="306.80" font-size="9.2" textLength="48.54" lengthAdjust="spacingAndGlyphs" stroke="#1b1b1b" stroke-width="0.1">B symptoms</text>
<text x="480.01" y="306.00" font-size="9" textLength="22.09" lengthAdjust="spacingAndGlyphs" stroke="#1b1b1b" stroke-width="0.1">0.047</text>
<line x1="426.10" y1="303.60" x2="449.40" y2="303.60" stroke="#222" stroke-width="1.1"/>
<line x1="426.10" y1="301.20" x2="426.10" y2="306.00" stroke="#222" stroke-width="1.1"/>
<line x1="449.40" y1="301.20" x2="449.40" y2="306.00" stroke="#222" stroke-width="1.1"/>
<rect x="437.85" y="301.35" width="4.5" height="4.5" fill="#a80026"/>
<text x="322.28" y="334.60" font-size="9.2" textLength="15.91" lengthAdjust="spacingAndGlyphs" stroke="#1b1b1b" stroke-width="0.1">Age</text>
<text x="482.46" y="334.40" font-size="9" textLength="17.13" lengthAdjust="spacingAndGlyphs" stroke="#1b1b1b" stroke-width="0.1">0.08</text>
<rect x="423.85" y="329.75" width="4.5" height="4.5" fill="#a80026"/>
<text x="308.70" y="362.90" font-size="9.2" textLength="30.21" lengthAdjust="spacingAndGlyphs" stroke="#1b1b1b" stroke-width="0.1">Stage II</text>
<text x="482.66" y="362.10" font-size="9" textLength="16.76" lengthAdjust="spacingAndGlyphs" stroke="#1b1b1b" stroke-width="0.1">0.11</text>
<line x1="422.60" y1="359.70" x2="455.00" y2="359.70" stroke="#222" stroke-width="1.1"/>
<line x1="422.60" y1="357.30" x2="422.60" y2="362.10" stroke="#222" stroke-width="1.1"/>
<line x1="455.00" y1="357.30" x2="455.00" y2="362.10" stroke="#222" stroke-width="1.1"/>
<rect x="441.15" y="357.45" width="4.5" height="4.5" fill="#a80026"/>
<text x="84.73" y="402.20" font-size="10.2" textLength="155.85" lengthAdjust="spacingAndGlyphs" stroke="#1b1b1b" stroke-width="0.25">Multivariable hazard ratio (95% CI) for PFS</text>
<text x="326.43" y="402.20" font-size="10.2" textLength="156.25" lengthAdjust="spacingAndGlyphs" stroke="#1b1b1b" stroke-width="0.25">Multivariable hazard ratio (95% CI) for PFS</text>
</svg>
</body></html>
